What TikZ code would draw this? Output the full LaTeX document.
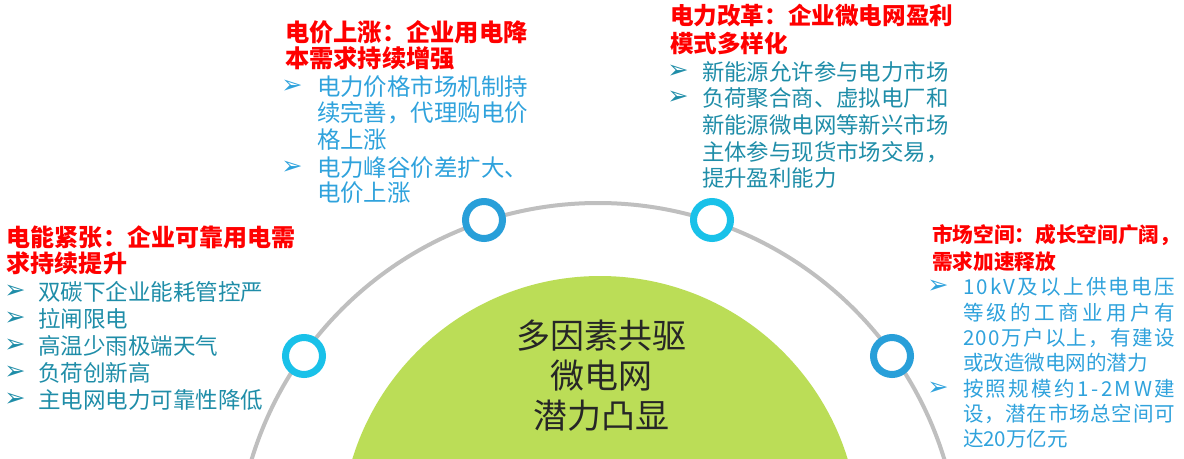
\documentclass[tikz,border=0pt]{standalone}
\usepackage{fontspec}
\setmainfont{Noto Sans CJK SC}
\newfontfamily\djv{DejaVu Sans}
\newcount\mycc
\mycc="4E00
\loop
  \XeTeXcharclass\mycc=7
  \advance\mycc by 1
\ifnum\mycc<"A000 \repeat
\XeTeXcharclass"FF0C=7
\XeTeXcharclass"3001=7
\mycc=`0
\loop
  \XeTeXcharclass\mycc=8
  \advance\mycc by 1
\ifnum\mycc<58 \repeat
\XeTeXcharclass`k=8
\XeTeXcharclass`V=8
\XeTeXcharclass`M=8
\XeTeXcharclass`W=8
\XeTeXcharclass`-=8
\XeTeXinterchartoks 7 7 = {\hskip 0pt plus 1fil\relax}
\XeTeXinterchartoks 8 7 = {\hskip 0pt plus 1fil\relax}
\XeTeXinterchartoks 7 8 = {\hskip 0pt plus 1fil\relax}
\XeTeXinterchartoks 8 8 = {\hskip 0pt plus 1fil\relax}
\newcommand\jline[1]{\hbox to 159pt{\XeTeXinterchartokenstate=1 #1}}
\definecolor{hred}{HTML}{FF0000}
\definecolor{tealtxt}{HTML}{1F8DA8}
\definecolor{bluetxt}{HTML}{2FA2DC}
\definecolor{ringcyan}{HTML}{19C1E9}
\definecolor{ringblue}{HTML}{289FD9}
\definecolor{greenfill}{HTML}{BBDD57}
\definecolor{arcgray}{HTML}{BFBFBF}
\definecolor{ctext}{HTML}{262626}
\tikzset{
  txt/.style={anchor=base west, inner sep=0pt, outer sep=0pt},
  hdL/.style={txt, text=hred, font={\fontsize{18pt}{20pt}\selectfont\bfseries}},
  btL/.style={txt, text=tealtxt, font={\fontsize{16.9pt}{20pt}\selectfont}},
  hdT/.style={txt, text=hred, font={\fontsize{18.2pt}{20pt}\selectfont\bfseries}},
  btT/.style={txt, text=bluetxt, font={\fontsize{17.6pt}{20pt}\selectfont}},
  hdTR/.style={txt, text=hred, font={\fontsize{17.7pt}{20pt}\selectfont\bfseries}},
  btTR/.style={txt, text=tealtxt, font={\fontsize{16.8pt}{20pt}\selectfont}},
  hdR/.style={txt, text=hred, font={\fontsize{15.5pt}{18pt}\selectfont\bfseries}},
  btR/.style={txt, text=bluetxt, font={\fontsize{15.4pt}{18pt}\selectfont}},
  arw/.style={anchor=center, inner sep=0pt, font={\djv\fontsize{19pt}{19pt}\selectfont}},
  ringbox/.style={circle, inner sep=0pt, minimum size=27.75pt, line width=5.25pt, fill=white},
  ctr/.style={anchor=base, inner sep=0pt, text=ctext, font={\fontsize{25.5pt}{28pt}\selectfont}}
}
\begin{document}
\begin{tikzpicture}[x=0.75pt, y=-0.75pt]
\useasboundingbox (0,0) rectangle (1184,458);
\begin{scope}
  \clip (0,0) rectangle (1184,458);
  \fill[greenfill] (600,535) circle[radius=194.25pt];
  \draw[arcgray, line width=3pt] (598,565) circle[radius=271.5pt];
\end{scope}
% rings
\node[ringbox, draw=ringcyan] (rA) at (304,356) {};
\node[ringbox, draw=ringblue] (rB) at (484,220) {};
\node[ringbox, draw=ringcyan] (rC) at (712,220) {};
\node[ringbox, draw=ringblue] (rD) at (892,356) {};
% centre text
\node[ctr] (c1) at (601,348) {多因素共驱};
\node[ctr] (c2) at (601,388) {微电网};
\node[ctr] (c3) at (601,428) {潜力凸显};
% left block
\node[hdL] (la) at (7,246) {电能紧张：企业可靠用电需};
\node[hdL] (lb) at (7,272) {求持续提升};
\foreach \i/\y/\t in {1/300.5/双碳下企业能耗管控严, 2/327.5/拉闸限电, 3/354.5/高温少雨极端天气, 4/381.5/负荷创新高, 5/408.5/主电网电力可靠性降低} {
  \node[btL] (lt\i) at (38,\y) {\t};
  \node[arw, text=tealtxt] (lr\i) at (15,\y-8.5) {➢};
}
% top-left block
\node[hdT] (ta) at (285,41) {电价上涨：企业用电降};
\node[hdT] (tb) at (285,67) {本需求持续增强};
\foreach \i/\y/\t in {1/95.5/电力价格市场机制持, 2/121.5/续完善，代理购电价, 3/148.5/格上涨, 4/176.5/电力峰谷价差扩大、, 5/201.5/电价上涨} {
  \node[btT] (tt\i) at (317,\y) {\t};
}
\node[arw, text=bluetxt] (tr1) at (292,86.6) {➢};
\node[arw, text=bluetxt] (tr2) at (292,167.6) {➢};
% top-right block
\node[hdTR] (ua) at (670,24) {电力改革：企业微电网盈利};
\node[hdTR] (ub) at (670,52) {模式多样化};
\foreach \i/\y/\t in {1/80.5/新能源允许参与电力市场, 2/106.5/负荷聚合商、虚拟电厂和, 3/133.5/新能源微电网等新兴市场, 4/160.5/主体参与现货市场交易，, 5/186.5/提升盈利能力} {
  \node[btTR] (ut\i) at (702,\y) {\t};
}
\node[arw, text=tealtxt] (ur1) at (678,72) {➢};
\node[arw, text=tealtxt] (ur2) at (678,98) {➢};
% right block
\node[hdR] (ra) at (932,242.8) {市场空间：成长空间广阔，};
\node[hdR] (rb) at (932,269.8) {需求加速释放};
\node[btR] (rt1) at (963,294.8) {\jline{10kV及以上供电电压}};
\node[btR] (rt2) at (963,320.1) {\jline{等级的工商业用户有}};
\node[btR] (rt3) at (963,345.4) {\jline{200万户以上，有建设}};
\node[btR] (rt4) at (963,370.8) {或改造微电网的潜力};
\node[btR] (rt5) at (963,396.1) {\jline{按照规模约1-2MW建}};
\node[btR] (rt6) at (963,421.4) {\jline{设，潜在市场总空间可}};
\node[btR] (rt7) at (963,446.8) {达20万亿元};
\node[arw, text=bluetxt] (rr1) at (938,287) {➢};
\node[arw, text=bluetxt] (rr2) at (938,388.3) {➢};
\end{tikzpicture}
\end{document}
